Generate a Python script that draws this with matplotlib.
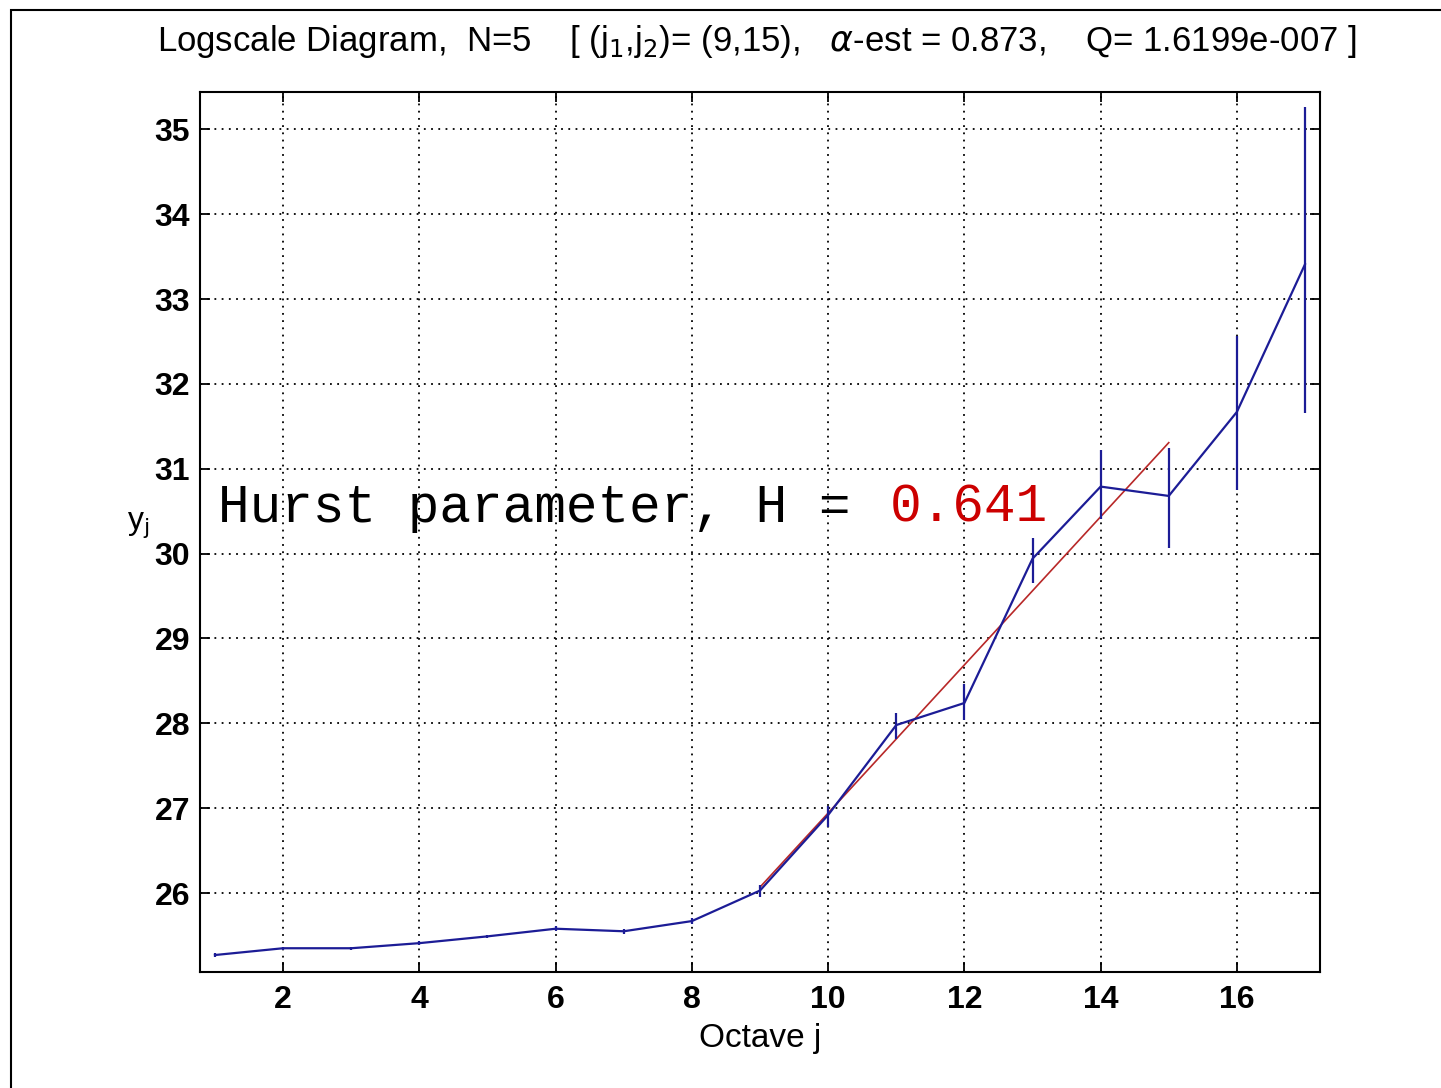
import numpy as np
import matplotlib
matplotlib.use("Agg")
import matplotlib.pyplot as plt
from matplotlib.patches import Rectangle

# octaves and log-scale values y_j with confidence intervals
octave = np.arange(1, 18)
y_j = [25.27, 25.35, 25.35, 25.41, 25.49, 25.58, 25.55, 25.67, 26.03,
       26.92, 27.98, 28.24, 29.94, 30.79, 30.68, 31.67, 33.41]
y_lo = [25.25, 25.33, 25.33, 25.39, 25.47, 25.55, 25.52, 25.63, 25.95,
        26.78, 27.81, 28.04, 29.65, 30.41, 30.07, 30.75, 31.66]
y_hi = [25.29, 25.37, 25.37, 25.43, 25.51, 25.61, 25.58, 25.71, 26.10,
        27.03, 28.12, 28.46, 30.19, 31.22, 31.24, 32.57, 35.26]

# regression over (j1, j2)
j1, j2 = 9, 15
alpha_est = 0.873
fit_at_j1 = 26.07
hurst = 0.641

xticks = [2, 4, 6, 8, 10, 12, 14, 16]
yticks = [26, 27, 28, 29, 30, 31, 32, 33, 34, 35]

W, H = 1441, 1088
fig = plt.figure(figsize=(W / 100, H / 100), dpi=100)
ax = fig.add_axes([200 / W, 116 / H, 1120 / W, 880 / H])

blue = "#1c1c96"
red = "#b82828"

y_j = np.array(y_j)
yerr = [y_j - np.array(y_lo), np.array(y_hi) - y_j]
jfit = np.array([j1, j2])
ax.plot(jfit, fit_at_j1 + alpha_est * (jfit - j1), color=red, lw=1.2, zorder=3)
ax.errorbar(octave, y_j, yerr=yerr, color=blue, lw=1.6, elinewidth=1.6,
            capsize=0, zorder=4)

ax.set_xlim(0.78, 17.22)
ax.set_ylim(25.07, 35.44)
ax.set_xticks(xticks)
ax.set_yticks(yticks)
ax.grid(True, color="black", linestyle=(0, (1, 3)), linewidth=1.3)
ax.tick_params(direction="in", length=7, width=1.3, top=True, right=True,
               labelsize=23, pad=7)
ax.tick_params(axis="x", pad=9)
for lab in ax.get_xticklabels() + ax.get_yticklabels():
    lab.set_fontweight("bold")
    lab.set_family("Liberation Sans")
for s in ax.spines.values():
    s.set_linewidth(1.5)

ax.set_xlabel("Octave j", fontsize=24, family="Liberation Sans", labelpad=6)
fig.text(127 / W, 1 - 525 / H, r"y$_\mathrm{j}$", fontsize=23,
         family="Liberation Sans", ha="left", va="center")

title = (r"Logscale Diagram,  N=5    [ (j$_1$,j$_2$)= (9,15),   $\alpha$-est = "
         + f"{alpha_est:.3f},    Q= 1.6199e-007 ]")
fig.text(757 / W, 1 - 41 / H, title, fontsize=25, family="Liberation Sans",
         ha="center", va="center")

# Hurst annotation
hx, hy = 218 / W, 1 - 522 / H
label = "Hurst parameter, H = "
fig.text(hx, hy, label, fontsize=38, family="Liberation Mono",
         color="black", va="baseline", ha="left")
fig.text(hx + len(label) * 32 / W, hy, f"{hurst:.3f}", fontsize=38,
         family="Liberation Mono", color="#cc0000", va="baseline", ha="left")

# outer frame
fig.add_artist(Rectangle((11 / W, -0.5), 2, 0.5 + 1 - 10 / H,
                         transform=fig.transFigure, fill=False,
                         edgecolor="black", lw=1.5))

fig.savefig("out.png", dpi=100)
